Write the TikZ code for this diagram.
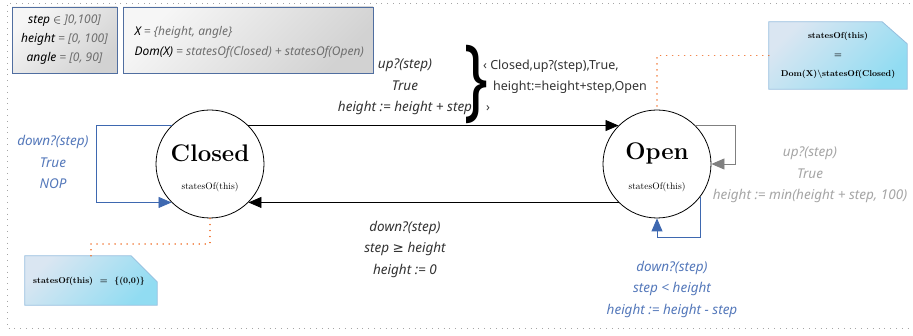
\documentclass[tikz,border=0pt]{standalone}
\usepackage{fontspec}
\newfontfamily\lblfont{Noto Sans}
\newfontfamily\symfont{DejaVu Sans}
\usetikzlibrary{arrows.meta}
\definecolor{lblblue}{RGB}{84,120,186}
\definecolor{lnblue}{RGB}{62,104,176}
\definecolor{lblgray}{RGB}{165,165,165}
\definecolor{lngray}{RGB}{128,128,128}
\definecolor{dorange}{RGB}{240,110,40}
\definecolor{boxborder}{RGB}{80,110,160}
\definecolor{boxlight}{RGB}{246,246,246}
\definecolor{boxdark}{RGB}{210,210,210}
\definecolor{notelight}{RGB}{218,230,242}
\definecolor{notedark}{RGB}{145,220,242}
\definecolor{noteborder}{RGB}{150,190,222}
\definecolor{txtdark}{RGB}{50,50,50}
\definecolor{valgray}{RGB}{110,110,110}
\newcommand\vname[1]{\textcolor{black}{\bfseries #1}}
\begin{document}
\begin{tikzpicture}[x=1pt,y=-1pt,
  state/.style={circle,draw,line width=0.8pt,minimum size=108pt,inner sep=0pt,fill=white},
  sname/.style={font=\bfseries\fontsize{24}{26}\selectfont,inner sep=0pt},
  ssub/.style={font=\fontsize{9.5}{11}\selectfont,inner sep=0pt},
  lbl/.style={font=\lblfont\itshape\fontsize{13.5}{21.5}\selectfont,align=center,inner sep=0pt},
  ed/.style={line width=0.8pt,-{Triangle[length=13pt,width=11pt]}},
  edblue/.style={ed,draw=lnblue,-{Triangle[length=13pt,width=11pt,fill=lnblue]}},
  edgray/.style={ed,draw=lngray,-{Triangle[length=13pt,width=11pt,fill=lngray]}},
  conn/.style={draw=dorange,line width=1.5pt,line cap=round,dash pattern=on 0.01pt off 6pt},
  frame/.style={draw=lblgray,line width=0.7pt,dash pattern=on 0.8pt off 5pt},
  infobox/.style={draw=boxborder,line width=0.8pt,left color=boxlight,right color=boxdark,shading angle=45,inner sep=0pt},
  notefill/.style={draw=noteborder,line width=0.8pt,left color=notelight,right color=notedark,shading angle=45},
  notetext/.style={font=\bfseries\fontsize{8.5}{19}\selectfont,align=center,inner sep=0pt}]
\useasboundingbox (0,0) rectangle (913,336);
\draw[frame] (910,3) -- (7,3) -- (7,328) -- (910,328);

% info boxes
\node[infobox,minimum width=105pt,minimum height=66pt] (box1) at (64.5,40) {};
\node[font=\lblfont\itshape\fontsize{12}{19}\selectfont,align=center,text=valgray] (box1t) at (box1.center)
  {\vname{step} \textcolor{black}{$\in$} ]0,100]\\ \vname{height} = [0, 100]\\ \vname{angle} = [0, 90]};
\node[infobox,minimum width=250pt,minimum height=66pt] (box2) at (248,40) {};
\node[font=\lblfont\itshape\fontsize{12}{20}\selectfont,align=left,text=valgray,anchor=west] (box2t) at (131,42)
  {\vname{X} = \{height, angle\}\\ \vname{Dom(X)} = statesOf(Closed) + statesOf(Open)};

% states
\node[state] (closed) at (210,164) {};
\node[sname] (closedname) at (210,153) {Closed};
\node[ssub] (closedsub) at (210,187) {statesOf(this)};
\node[state] (open) at (657,164) {};
\node[sname] (openname) at (657,153) {Open};
\node[ssub] (opensub) at (657,187) {statesOf(this)};

% transitions
\draw[ed] (closed.45) -- (open.135);
\draw[ed] (open.-135) -- (closed.-45);
\draw[edblue] (closed.135) -- ++(-75,0) |- (closed.-135);
\draw[edgray] (open.45) -- ++(40,0) |- (open.east);
\draw[edblue] (open.-37) -- ++(0,41) -| (open.south);

% labels
\node[lbl,text=txtdark] (uplbl) at (405,87) {up?(step)\\True\\height := height + step};
\node[lbl,text=txtdark] (downlbl) at (405,249) {down?(step)\\step {\symfont ≥} height\\height := 0};
\node[lbl,text=lblblue] (cloop) at (53,162) {down?(step)\\True\\NOP};
\node[lbl,text=lblgray] (oloop) at (810,175) {up?(step)\\True\\height := min(height + step, 100)};
\node[lbl,text=lblblue] (odown) at (672,289) {down?(step)\\step < height\\height := height - step};

% brace and tuple
\node[font=\lblfont\bfseries\fontsize{90}{90}\selectfont,inner sep=0pt] (brace) at (476,84) {\scalebox{0.7}[1]{\}}};
\node[font=\lblfont\fontsize{12.5}{21}\selectfont,align=left,inner sep=0pt,anchor=west,text=txtdark] (tuple) at (483,86)
  {‹ Closed,up?(step),True,\\\hspace*{10pt}height:=height+step,Open\\\hspace*{3pt}›};

% notes
\node[minimum width=138pt,minimum height=67pt,inner sep=0pt] (noteR) at (838,55.5) {};
\path[notefill] (noteR.north west) -- ([xshift=-25pt]noteR.north east) -- ([yshift=-22pt]noteR.north east)
  -- (noteR.south east) -- (noteR.south west) -- cycle;
\node[notetext] (noteRt) at (noteR.center) {statesOf(this)\\=\\Dom(X)\textbackslash statesOf(Closed)};
\node[minimum width=132pt,minimum height=49pt,inner sep=0pt] (noteL) at (91,280.5) {};
\path[notefill] (noteL.north west) -- ([xshift=-26pt]noteL.north east) -- ([yshift=-26pt]noteL.north east)
  -- (noteL.south east) -- (noteL.south west) -- cycle;
\node[notetext] (noteLt) at (89,281) {statesOf(this) ~=~ \{(0,0)\}};

% note connectors
\draw[conn] (noteR.west) -| (open.north);
\draw[conn] (noteL.north) -- ++(0,-12) -| (closed.south);
\end{tikzpicture}
\end{document}
